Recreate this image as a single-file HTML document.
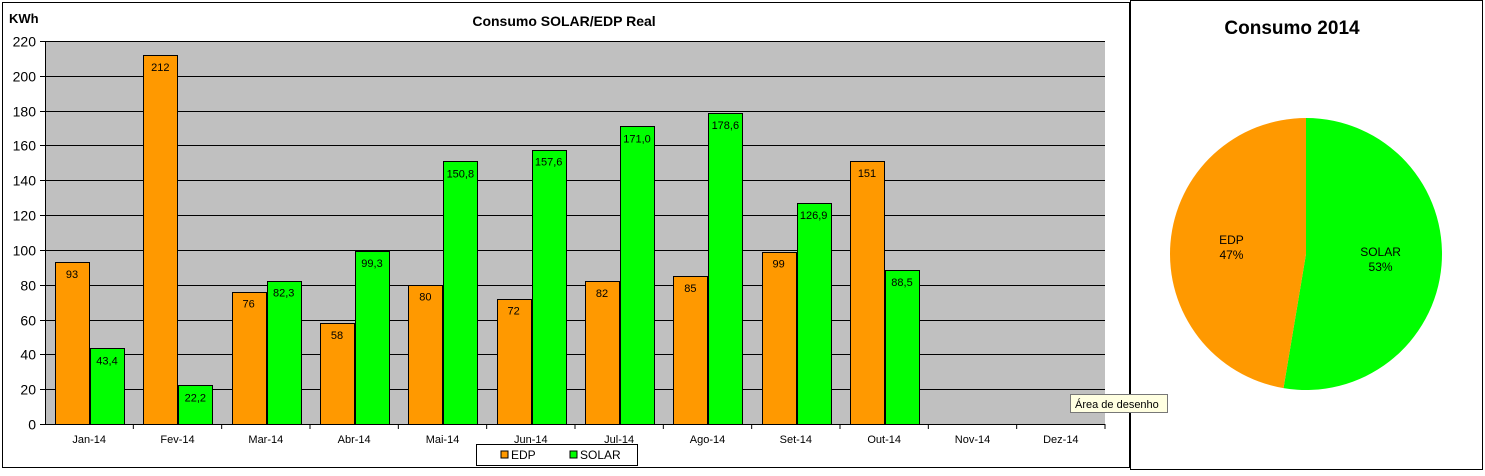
<!DOCTYPE html>
<html><head><meta charset="utf-8"><style>
body{margin:0;width:1485px;height:471px;background:#fff;overflow:hidden;font-family:"Liberation Sans",Arial,sans-serif}
svg text{font-family:"Liberation Sans",Arial,sans-serif}
</style></head><body>
<svg width="1485" height="471">
<rect x="2.5" y="2.5" width="1127" height="465" fill="#fff" stroke="#000"/>
<rect x="1130.5" y="0.5" width="352" height="469" fill="#fff" stroke="#000"/>
<text x="564" y="26" font-size="14" font-weight="bold" text-anchor="middle">Consumo SOLAR/EDP Real</text>
<text x="9" y="23" font-size="13" font-weight="bold">KWh</text>
<g id="bars"></g>
<g>
<rect x="476.5" y="444.5" width="161" height="21" fill="#fff" stroke="#000"/>
<rect x="501" y="451" width="7" height="7" fill="#ff9900" stroke="#000"/>
<text x="511" y="459" font-size="12">EDP</text>
<rect x="570" y="451" width="7" height="7" fill="#00ff00" stroke="#000"/>
<text x="580" y="459" font-size="12">SOLAR</text>
</g>
<text x="1292" y="34" font-size="19" font-weight="bold" text-anchor="middle">Consumo 2014</text>
<g id="pie"></g>
<g>
<rect x="1070.5" y="394.5" width="97" height="18" fill="#ffffe1" stroke="#777"/>
<text x="1075" y="408" font-size="11">Área de desenho</text>
</g>
</svg>
<script>
const categories=["Jan-14","Fev-14","Mar-14","Abr-14","Mai-14","Jun-14","Jul-14","Ago-14","Set-14","Out-14","Nov-14","Dez-14"];
const edpValues=[93,212,76,58,80,72,82,85,99,151,null,null];
const solarValues=[43.4,22.2,82.3,99.3,150.8,157.6,171.0,178.6,126.9,88.5,null,null];
const yTicks=[0,20,40,60,80,100,120,140,160,180,200,220];
const pieLabels=["SOLAR","EDP"];
const NS="http://www.w3.org/2000/svg";
function mk(t,a,p){const e=document.createElementNS(NS,t);for(const k in a)e.setAttribute(k,a[k]);p.appendChild(e);return e;}
const X0=45,X1=1105,Y0=424,Y1=41,yMax=220;
const y=v=>Y0-(v/yMax)*(Y0-Y1);
const cw=(X1-X0)/categories.length;
const g=document.getElementById('bars');
const bg=mk('rect',{x:X0,y:Y1,width:X1-X0,height:Y0-Y1,fill:'#c0c0c0'},g);


yTicks.forEach(t=>{
  const yy=Math.round(y(t))+0.5;
  if(t>0){const l=mk('line',{x1:X0,x2:X1,y1:yy,y2:yy,stroke:'#000'},g);
  
  }
  mk('line',{x1:X0-5,x2:X0,y1:yy,y2:yy,stroke:'#000'},g);
  const tx=mk('text',{x:X0-9,y:yy+5,'font-size':14,'text-anchor':'end'},g);tx.textContent=t;
  
  
});
mk('line',{x1:X0+0.5,x2:X0+0.5,y1:Y1,y2:Y0,stroke:'#000'},g);
mk('line',{x1:X0,x2:X1,y1:Y0+0.5,y2:Y0+0.5,stroke:'#000'},g);
const bw=34;
categories.forEach((c,i)=>{
  const cx=X0+cw*i;
  mk('line',{x1:cx+cw,x2:cx+cw,y1:Y0,y2:Y0+5,stroke:'#000'},g);
  const tx=mk('text',{x:cx+cw/2,y:Y0+19,'font-size':11,'text-anchor':'middle'},g);tx.textContent=c;
  
  
  [[edpValues[i],'#ff9900',cx+10,0],[solarValues[i],'#00ff00',cx+10+bw+1,1]].forEach(([v,col,bx,k])=>{
    if(v==null)return;
    const r=mk('rect',{x:Math.round(bx)+0.5,y:Math.round(y(v))+0.5,width:bw,height:Y0-Math.round(y(v)),fill:col,stroke:'#000'},g);
    
    
    const lt=mk('text',{x:bx+bw/2,y:y(v)+16,'font-size':11,'text-anchor':'middle'},g);
    lt.textContent=k?v.toFixed(1).replace('.',','):v;
    
    
  });
});
// pie
const sumE=edpValues.reduce((a,b)=>a+(b||0),0),sumS=solarValues.reduce((a,b)=>a+(b||0),0);
const pieValues=[sumS,sumE];
const pg=document.getElementById('pie');
const PCX=1306,PCY=254,R=136,tot=sumS+sumE;
let a0=0;
const cols=['#00ff00','#ff9900'];
pieValues.forEach((v,i)=>{
  const a1=a0+v/tot*2*Math.PI;
  const p=(a)=>[PCX+R*Math.sin(a),PCY-R*Math.cos(a)];
  const [sx,sy]=p(a0),[ex,ey]=p(a1);
  const s=mk('path',{d:`M${PCX},${PCY}L${sx},${sy}A${R},${R} 0 ${a1-a0>Math.PI?1:0} 1 ${ex},${ey}Z`,fill:cols[i]},pg);
  
  
  const am=(a0+a1)/2,lx=PCX+R*0.55*Math.sin(am),ly=PCY-R*0.55*Math.cos(am);
  const t=mk('text',{x:lx,y:ly-4,'font-size':12,'text-anchor':'middle'},pg);
  t.innerHTML=`<tspan x="${lx}">${pieLabels[i]}</tspan><tspan x="${lx}" dy="15">${Math.round(v/tot*100)}%</tspan>`;
  
  
  a0=a1;
});
</script>
</body></html>
